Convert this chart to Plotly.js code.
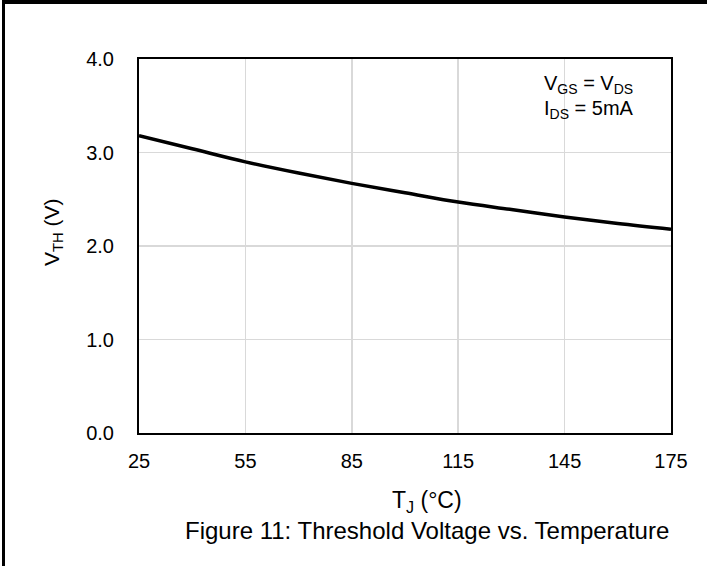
<!DOCTYPE html>
<html>
<head>
<meta charset="utf-8">
<script src="https://cdn.plot.ly/plotly-3.0.1.min.js"></script>
<style>
  html, body { margin: 0; padding: 0; background: #fff; }
  #wrap { position: relative; width: 707px; height: 566px; }
  #chart { width: 707px; height: 566px; }
  #frame { position: absolute; left: 2px; top: 0; width: 705px; height: 566px;
           border-top: 4px solid #000; border-left: 3px solid #000;
           box-sizing: border-box; pointer-events: none; }
</style>
</head>
<body>
<div id="wrap">
  <div id="chart"></div>
  <div id="frame"></div>
</div>
<script>
// Junction temperature (°C)
const temperature = [25, 40, 55, 70, 85, 100, 115, 130, 145, 160, 175];
// Threshold voltage (V)
const vth = [3.18, 3.04, 2.90, 2.78, 2.67, 2.57, 2.47, 2.39, 2.31, 2.24, 2.18];

const xTicks = [25, 55, 85, 115, 145, 175];
const yTicks = [0, 1, 2, 3, 4];
const yTickText = ["0.0", "1.0", "2.0", "3.0", "4.0"];

const xTitle = "T<sub>J</sub> (°C)";
const yTitle = "V<sub>TH</sub> (V)";
const condition1 = "V<sub>GS</sub> = V<sub>DS</sub>";
const condition2 = "I<sub>DS</sub> = 5mA";
const caption = "Figure 11: Threshold Voltage vs. Temperature";

const font = "Liberation Sans, Arial, sans-serif";

const trace = {
  x: temperature,
  y: vth,
  type: "scatter",
  mode: "lines",
  line: { color: "#000", width: 3.5, shape: "spline", smoothing: 1 },
  hoverinfo: "skip",
  showlegend: false
};

const layout = {
  width: 707,
  height: 566,
  margin: { l: 139, r: 36, t: 59, b: 133, pad: 0 },
  paper_bgcolor: "#fff",
  plot_bgcolor: "#fff",
  font: { family: font, color: "#000", size: 20 },
  xaxis: {
    range: [25, 175],
    tickvals: xTicks,
    ticktext: xTicks.map(String),
    ticks: "outside", ticklen: 9, tickcolor: "rgba(0,0,0,0)",
    showgrid: true, gridcolor: "#d9d9d9", gridwidth: 1.5,
    showline: true, linecolor: "#000", linewidth: 2, mirror: true,
    zeroline: false,
    tickfont: { size: 20, family: font },
    automargin: false, fixedrange: true
  },
  yaxis: {
    range: [0, 4],
    tickvals: yTicks,
    ticktext: yTickText,
    ticks: "outside", ticklen: 19, tickcolor: "rgba(0,0,0,0)",
    showgrid: true, gridcolor: "#d9d9d9", gridwidth: 1.5,
    showline: true, linecolor: "#000", linewidth: 2, mirror: true,
    zeroline: false,
    tickfont: { size: 20, family: font },
    automargin: false, fixedrange: true
  },
  shapes: [
    { type: "rect", xref: "paper", yref: "paper", layer: "below",
      x0: 0.752, x1: 0.955, y0: 0.805, y1: 0.982,
      fillcolor: "#fff", line: { width: 0 } }
  ],
  annotations: [
    { xref: "paper", yref: "paper", x: 0.758, y: 0.931,
      xanchor: "left", yanchor: "middle", align: "left", showarrow: false,
      text: condition1, font: { size: 20, family: font, color: "#000" } },
    { xref: "paper", yref: "paper", x: 0.758, y: 0.864,
      xanchor: "left", yanchor: "middle", align: "left", showarrow: false,
      text: condition2, font: { size: 20, family: font, color: "#000" } },
    { xref: "paper", yref: "paper", x: 0.541, y: -0.182,
      xanchor: "center", yanchor: "middle", showarrow: false,
      text: xTitle, font: { size: 23, family: font, color: "#000" } },
    { xref: "paper", yref: "paper", x: -0.162, y: 0.537,
      xanchor: "center", yanchor: "middle", showarrow: false, textangle: -90,
      text: yTitle, font: { size: 21, family: font, color: "#000" } },
    { xref: "paper", yref: "paper", x: 0.541, y: -0.261,
      xanchor: "center", yanchor: "middle", showarrow: false,
      text: caption, font: { size: 24, family: font, color: "#000" } }
  ]
};

Plotly.newPlot("chart", [trace], layout, { displayModeBar: false, staticPlot: true });
</script>
</body>
</html>
